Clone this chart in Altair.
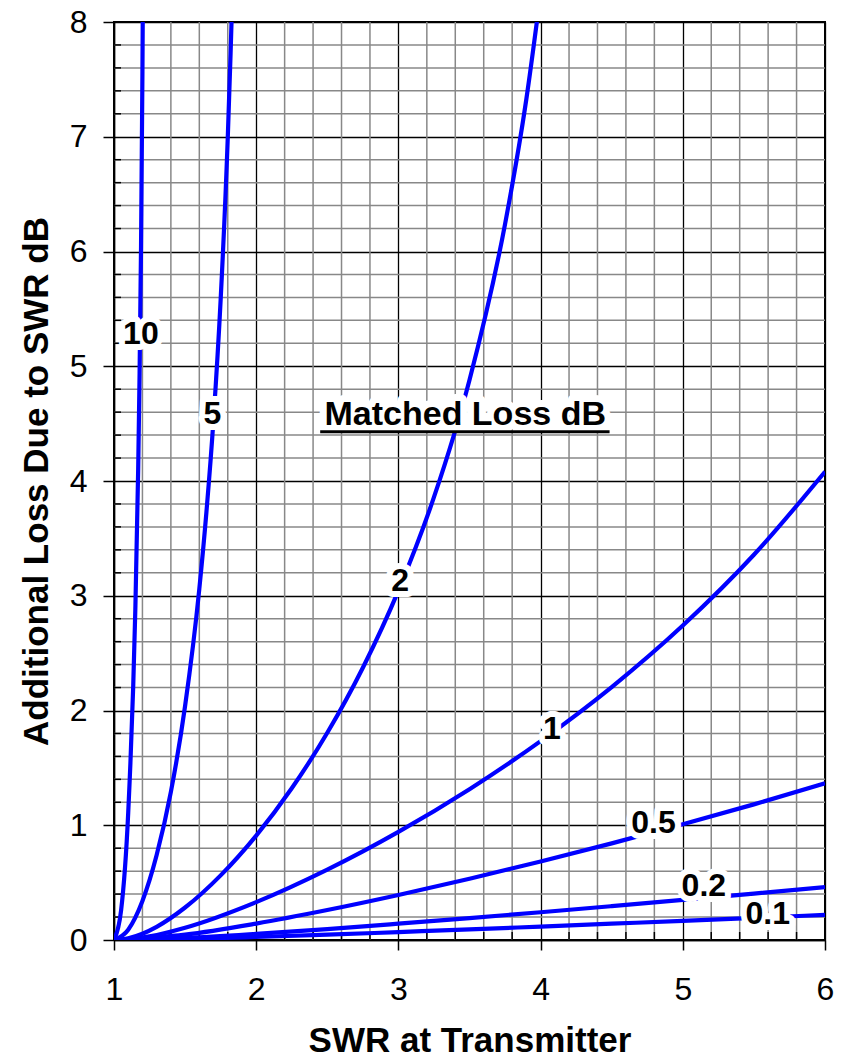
import altair as alt
import pandas as pd

# ---- data ----
swr_10 = [1.0, 1.05, 1.1, 1.15, 1.17, 1.18, 1.19, 1.2, 1.205]
loss_10 = [0.0, 0.26, 1.11, 2.88, 4.10, 4.94, 6.03, 7.57, 8.64]

swr_5 = [1.0, 1.1, 1.2, 1.3, 1.4, 1.5, 1.6, 1.65, 1.7, 1.75, 1.8, 1.82, 1.83]
loss_5 = [0.0, 0.09, 0.34, 0.74, 1.29, 2.04, 3.06, 3.73, 4.54, 5.58, 6.99, 7.73, 8.15]

swr_2 = [1.0, 1.1, 1.2, 1.3, 1.5, 1.75, 2.0, 2.25, 2.5, 2.75, 3.0, 3.25, 3.5, 3.75, 3.9, 4.0]
loss_2 = [0.0, 0.015, 0.055, 0.115, 0.283, 0.563, 0.910, 1.322, 1.806, 2.373, 3.045, 3.859, 4.881, 6.239, 7.330, 8.252]

swr_1 = [1.0, 1.1, 1.25, 1.5, 2.0, 2.5, 3.0, 3.5, 4.0, 4.5, 5.0, 5.5, 6.0]
loss_1 = [0.0, 0.006, 0.032, 0.107, 0.330, 0.613, 0.942, 1.314, 1.733, 2.204, 2.740, 3.357, 4.081]

swr_low = [1.0, 1.5, 2.0, 2.5, 3.0, 3.5, 4.0, 4.5, 5.0, 5.5, 6.0]
loss_05 = [0.0, 0.047, 0.143, 0.261, 0.392, 0.534, 0.684, 0.842, 1.008, 1.182, 1.365]
loss_02 = [0.0, 0.018, 0.053, 0.095, 0.142, 0.191, 0.242, 0.295, 0.349, 0.404, 0.460]
loss_01 = [0.0, 0.009, 0.026, 0.046, 0.069, 0.092, 0.117, 0.142, 0.167, 0.193, 0.219]

label_text = ["10", "5", "2", "1", "0.5", "0.2", "0.1"]
label_x = [1.189, 1.692, 3.013, 4.079, 4.794, 5.148, 5.597]
label_y = [5.285, 4.58, 3.129, 1.839, 1.020, 0.473, 0.229]

legend_title = ["Matched Loss dB"]
legend_x = [3.47]
legend_y = [4.49]
underline_x = [2.45]
underline_x2 = [4.485]
underline_y = [4.43]

x_ticks = [1, 2, 3, 4, 5, 6]
y_ticks = [0, 1, 2, 3, 4, 5, 6, 7, 8]
x_minor = [round(1 + 0.2 * i, 1) for i in range(26) if i % 5 != 0]
y_minor = [round(0.2 * i, 1) for i in range(41) if i % 5 != 0]

# ---- build tables ----
rows = []
for name, xs, ys in [("10", swr_10, loss_10), ("5", swr_5, loss_5), ("2", swr_2, loss_2),
                     ("1", swr_1, loss_1), ("0.5", swr_low, loss_05),
                     ("0.2", swr_low, loss_02), ("0.1", swr_low, loss_01)]:
    for x, y in zip(xs, ys):
        rows.append({"curve": name, "swr": x, "loss": y})
curves_df = pd.DataFrame(rows)
labels_df = pd.DataFrame({"text": label_text, "swr": label_x, "loss": label_y})
legend_df = pd.DataFrame({"text": legend_title, "swr": legend_x, "loss": legend_y})
underline_df = pd.DataFrame({"swr": underline_x, "swr2": underline_x2, "loss": underline_y})
xminor_df = pd.DataFrame({"swr": x_minor})
yminor_df = pd.DataFrame({"loss": y_minor})

FONT = "Liberation Sans"
W, H = 711, 918

xscale = alt.Scale(domain=[1, 6], nice=False, zero=False)
yscale = alt.Scale(domain=[0, 8], nice=False, zero=False)

x_axis = alt.Axis(values=x_ticks, format="d", title="SWR at Transmitter",
                  grid=True, gridColor="black", gridWidth=1.3, gridOpacity=1,
                  domainColor="black", domainWidth=1.5, labelFlush=False,
                  tickColor="black", tickSize=10, tickWidth=1.5,
                  labelFont=FONT, labelFontSize=32, labelColor="black", labelPadding=24,
                  titleFont=FONT, titleFontSize=35, titleFontWeight="bold",
                  titleColor="black", titlePadding=18)
y_axis = alt.Axis(values=y_ticks, format="d", title="Additional Loss Due to SWR dB",
                  grid=True, gridColor="black", gridWidth=1.3, gridOpacity=1,
                  domainColor="black", domainWidth=1.5, labelFlush=False,
                  tickColor="black", tickSize=11, tickWidth=1.5,
                  labelFont=FONT, labelFontSize=32, labelColor="black", labelPadding=16,
                  titleFont=FONT, titleFontSize=35, titleFontWeight="bold",
                  titleColor="black", titlePadding=15)

X = lambda f="swr": alt.X(f"{f}:Q", scale=xscale, axis=x_axis)
Y = lambda f="loss": alt.Y(f"{f}:Q", scale=yscale, axis=y_axis)

grid_x = alt.Chart(xminor_df).mark_rule(color="#888888", strokeWidth=1.5).encode(x=X())
grid_y = alt.Chart(yminor_df).mark_rule(color="#888888", strokeWidth=1.5).encode(y=Y())
tick_x = alt.Chart(xminor_df).mark_rule(color="black", strokeWidth=1.5).encode(
    x=X(), y=alt.value(H), y2=alt.value(H - 8))
tick_y = alt.Chart(yminor_df).mark_rule(color="black", strokeWidth=1.5).encode(
    y=Y(), x=alt.value(0), x2=alt.value(7))

lines = alt.Chart(curves_df).mark_line(color="#0000ff", strokeWidth=4.2, clip=True,
                                       interpolate="monotone").encode(
    x=X(), y=Y(), detail="curve:N", order="swr:Q")

halo = alt.Chart(labels_df).mark_text(font=FONT, fontSize=32, fontWeight="bold",
                                      fill="white", stroke="white", strokeWidth=12,
                                      strokeJoin="round").encode(x=X(), y=Y(), text="text:N")
labels = alt.Chart(labels_df).mark_text(font=FONT, fontSize=32, fontWeight="bold",
                                        color="black").encode(x=X(), y=Y(), text="text:N")

legend_halo = alt.Chart(legend_df).mark_text(font=FONT, fontSize=34, fontWeight="bold",
                                             baseline="alphabetic", fill="white",
                                             stroke="white", strokeWidth=14,
                                             strokeJoin="round").encode(x=X(), y=Y(), text="text:N")
legend_txt = alt.Chart(legend_df).mark_text(font=FONT, fontSize=34, fontWeight="bold",
                                            baseline="alphabetic", color="black").encode(
    x=X(), y=Y(), text="text:N")
underline = alt.Chart(underline_df).mark_rule(color="black", strokeWidth=3).encode(
    x=X(), x2="swr2:Q", y=Y())

chart = alt.layer(grid_x, grid_y, tick_x, tick_y, lines, halo, labels,
                  legend_halo, legend_txt, underline).properties(
    width=W, height=H,
    autosize=alt.AutoSizeParams(type="none"),
    padding={"left": 106, "top": 14, "right": 16, "bottom": 112},
    background="white",
).configure_view(stroke="black", strokeWidth=2)

chart.save("out.html", embed_options={"renderer": "svg", "actions": False})
